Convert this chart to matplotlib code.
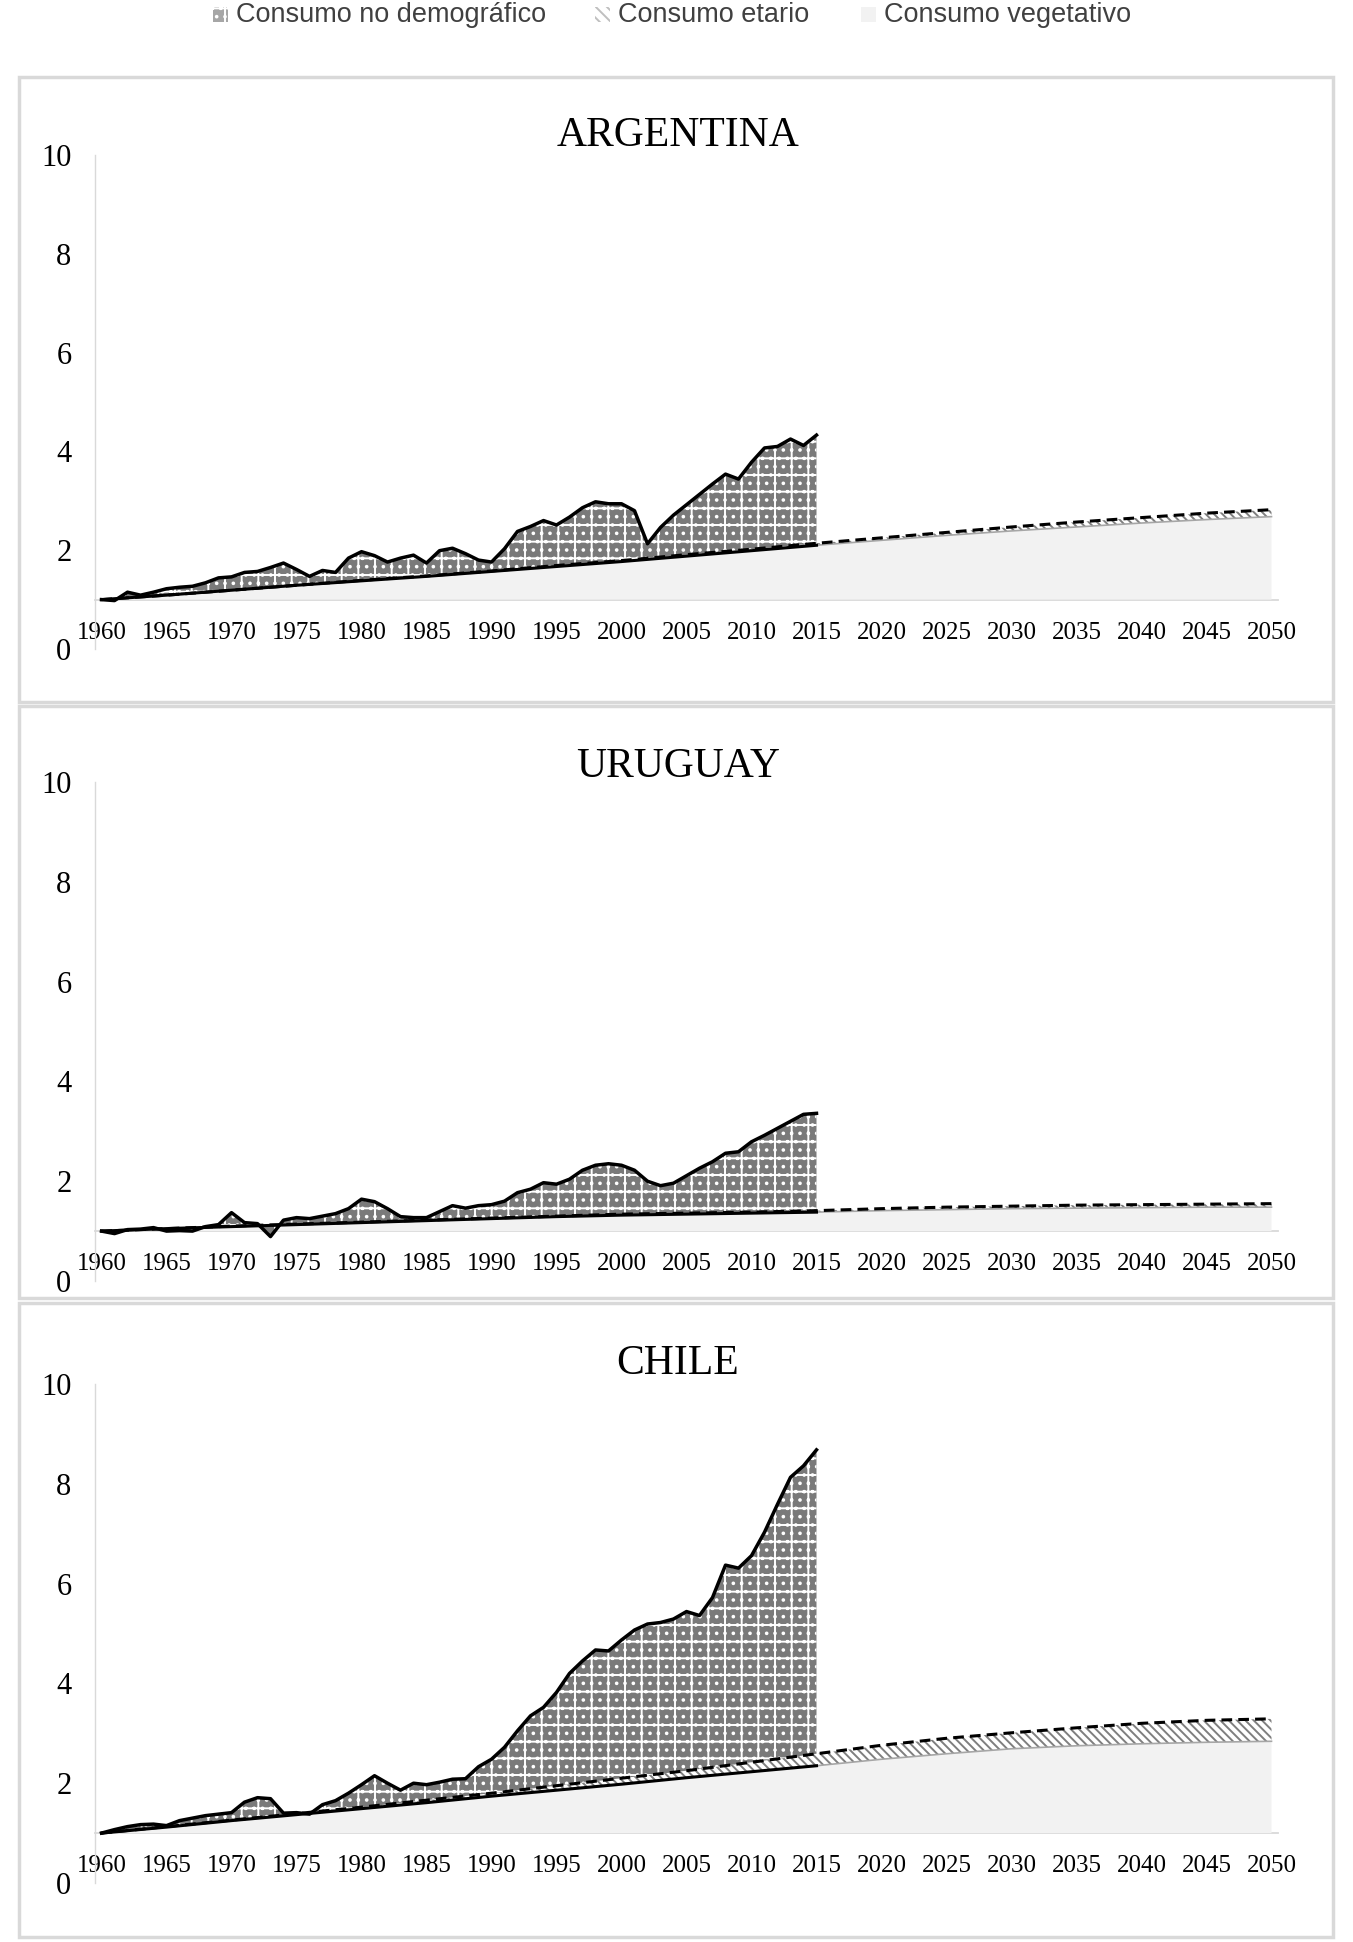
import numpy as np
import matplotlib
matplotlib.use('Agg')
import matplotlib.pyplot as plt
from matplotlib.patches import Rectangle

# 数据：历史年份（逐年）与五年间隔年份（1960-2050）
years_hist = np.arange(1960, 2016)
years5 = np.arange(1960, 2051, 5)

paises = ['ARGENTINA', 'URUGUAY', 'CHILE']

# 总消费指数（含非人口因素），1960-2015
arg_total = [1.00, 0.98, 1.15, 1.09, 1.15, 1.22, 1.25, 1.27, 1.34, 1.44,
             1.46, 1.55, 1.57, 1.65, 1.74, 1.61, 1.47, 1.59, 1.55, 1.84,
             1.97, 1.89, 1.76, 1.84, 1.90, 1.74, 1.99, 2.04, 1.93, 1.80,
             1.76, 2.03, 2.38, 2.48, 2.60, 2.51, 2.67, 2.86, 2.98, 2.94,
             2.94, 2.80, 2.13, 2.46, 2.71, 2.92, 3.13, 3.34, 3.54, 3.44,
             3.78, 4.07, 4.10, 4.25, 4.12, 4.33]
uru_total = [1.00, 0.95, 1.03, 1.04, 1.07, 1.00, 1.01, 1.00, 1.09, 1.13,
             1.37, 1.17, 1.15, 0.89, 1.22, 1.27, 1.25, 1.30, 1.35, 1.45,
             1.64, 1.59, 1.45, 1.29, 1.27, 1.27, 1.39, 1.51, 1.46, 1.51,
             1.53, 1.60, 1.77, 1.84, 1.97, 1.94, 2.04, 2.22, 2.32, 2.35,
             2.32, 2.22, 2.00, 1.91, 1.96, 2.11, 2.26, 2.39, 2.56, 2.59,
             2.79, 2.92, 3.06, 3.20, 3.34, 3.36]
chl_total = [1.00, 1.07, 1.13, 1.17, 1.18, 1.15, 1.25, 1.30, 1.35, 1.38,
             1.41, 1.62, 1.71, 1.69, 1.40, 1.41, 1.38, 1.57, 1.65, 1.80,
             1.97, 2.15, 2.00, 1.86, 2.00, 1.97, 2.02, 2.08, 2.09, 2.33,
             2.48, 2.72, 3.05, 3.35, 3.52, 3.82, 4.20, 4.45, 4.67, 4.65,
             4.87, 5.07, 5.19, 5.22, 5.29, 5.44, 5.36, 5.72, 6.37, 6.31,
             6.56, 7.03, 7.59, 8.13, 8.36, 8.68]

# 消费（人口增长）与 消费（人口增长+年龄结构），每五年
arg_veg = [1.00, 1.09, 1.19, 1.29, 1.38, 1.47, 1.57, 1.67, 1.77, 1.88,
           1.99, 2.10, 2.20, 2.30, 2.39, 2.47, 2.55, 2.62, 2.68]
arg_eta = [1.00, 1.09, 1.19, 1.29, 1.39, 1.48, 1.58, 1.69, 1.79, 1.91,
           2.02, 2.14, 2.25, 2.36, 2.47, 2.57, 2.66, 2.75, 2.82]
uru_veg = [1.00, 1.05, 1.09, 1.13, 1.17, 1.21, 1.25, 1.29, 1.32, 1.34,
           1.36, 1.38, 1.41, 1.43, 1.45, 1.46, 1.47, 1.48, 1.48]
uru_eta = [1.00, 1.05, 1.10, 1.14, 1.18, 1.22, 1.26, 1.30, 1.34, 1.36,
           1.38, 1.41, 1.45, 1.48, 1.50, 1.52, 1.53, 1.54, 1.55]
chl_veg = [1.00, 1.12, 1.25, 1.37, 1.49, 1.61, 1.74, 1.86, 1.98, 2.11,
           2.23, 2.35, 2.48, 2.59, 2.69, 2.75, 2.79, 2.82, 2.84]
chl_eta = [1.00, 1.13, 1.26, 1.39, 1.52, 1.66, 1.80, 1.95, 2.10, 2.25,
           2.42, 2.59, 2.76, 2.90, 3.01, 3.11, 3.20, 3.26, 3.29]

totales = [arg_total, uru_total, chl_total]
vegetativos = [arg_veg, uru_veg, chl_veg]
etarios = [arg_eta, uru_eta, chl_eta]

etiquetas = ['Consumo no demográfico', 'Consumo etario', 'Consumo vegetativo']

SERIF = ['Liberation Serif', 'DejaVu Serif']
SANS = ['Liberation Sans', 'DejaVu Sans']

plt.rcParams['hatch.linewidth'] = 1.4

W, H = 1353, 1942
fig = plt.figure(figsize=(W / 100, H / 100), dpi=100)

# 面板边框（像素坐标）
cajas = [(77, 702), (706, 1298), (1303, 1937)]
# 坐标轴位置：y=0 与 y=10 的像素位置
ejes_px = [(649, 155), (1281, 782), (1883, 1384)]
titulos_y = [136, 767, 1364]

for i in range(3):
    y_top, y_bot = cajas[i]
    fig.patches.append(Rectangle((19 / W, 1 - y_bot / H), 1314 / W, (y_bot - y_top) / H,
                                 transform=fig.transFigure, facecolor='none',
                                 edgecolor='#d9d9d9', linewidth=2.5, zorder=-1))

    y0, y10 = ejes_px[i]
    ax = fig.add_axes([95 / W, 1 - y0 / H, 1183 / W, (y0 - y10) / H])
    ax.patch.set_alpha(0)

    total = np.array(totales[i])
    veg = np.array(vegetativos[i])
    eta = np.array(etarios[i])
    n_hist = np.sum(years5 <= 2015)

    # 面积
    ax.fill_between(years5, 1, veg, facecolor='#f2f2f2', linewidth=0, zorder=1)
    ax.fill_between(years5, veg, eta, facecolor='white', edgecolor='#7f7f7f',
                    hatch='\\\\\\\\', linewidth=0, zorder=2)
    xs = np.concatenate([years_hist, years5[:n_hist][::-1]])
    ys = np.concatenate([total, eta[:n_hist][::-1]])
    ax.fill(xs, ys, facecolor='#7a7a7a', edgecolor='white', hatch='+..',
            linewidth=0, zorder=2)

    # 线条
    ax.plot(years5[n_hist - 1:], veg[n_hist - 1:], color='#a6a6a6', lw=1.2, zorder=3)
    ax.plot(years5[:n_hist], veg[:n_hist], color='black', lw=2.2, zorder=4)
    ax.plot(years5, eta, color='black', lw=2.2, ls=(0, (3.5, 2)), zorder=4)
    ax.plot(years_hist, total, color='black', lw=2.5, zorder=5)

    ax.set_xlim(1959.5, 2050.5)
    ax.set_ylim(0, 10)
    ax.set_yticks(range(0, 11, 2))
    ax.set_xticks(range(1960, 2051, 5))
    for s in ['top', 'right']:
        ax.spines[s].set_visible(False)
    ax.spines['bottom'].set_position(('data', 1))
    ax.spines['bottom'].set_color('#d9d9d9')
    ax.spines['bottom'].set_linewidth(1.3)
    ax.spines['bottom'].set_zorder(0.5)
    ax.spines['left'].set_color('#d9d9d9')
    ax.spines['left'].set_linewidth(1.0)
    ax.tick_params(axis='both', length=0)
    ax.tick_params(axis='y', pad=17)
    ax.tick_params(axis='x', pad=16)
    for lab in ax.get_yticklabels():
        lab.set_family(SERIF)
        lab.set_fontsize(22)
    for lab in ax.get_xticklabels():
        lab.set_family(SERIF)
        lab.set_fontsize(18)

    fig.text(678 / W, 1 - titulos_y[i] / H, paises[i], ha='center', va='center',
             family=SERIF, fontsize=30)

# 图例（手动放置）
ley_x = [213, 595, 861]
ley_y = 15
marc = [dict(facecolor='#a6a6a6', edgecolor='white', hatch='+..'),
        dict(facecolor='white', edgecolor='#bfbfbf', hatch='\\\\\\'),
        dict(facecolor='#f2f2f2', edgecolor='#f2f2f2')]
for k in range(3):
    fig.patches.append(Rectangle((ley_x[k] / W, 1 - (ley_y + 7) / H), 15 / W, 15 / H,
                                 transform=fig.transFigure, linewidth=0, **marc[k]))
    fig.text((ley_x[k] + 23) / W, 1 - ley_y / H, etiquetas[k], ha='left', va='center',
             family=SANS, fontsize=19.5, color='#404040')

fig.savefig('out.png', dpi=100)
